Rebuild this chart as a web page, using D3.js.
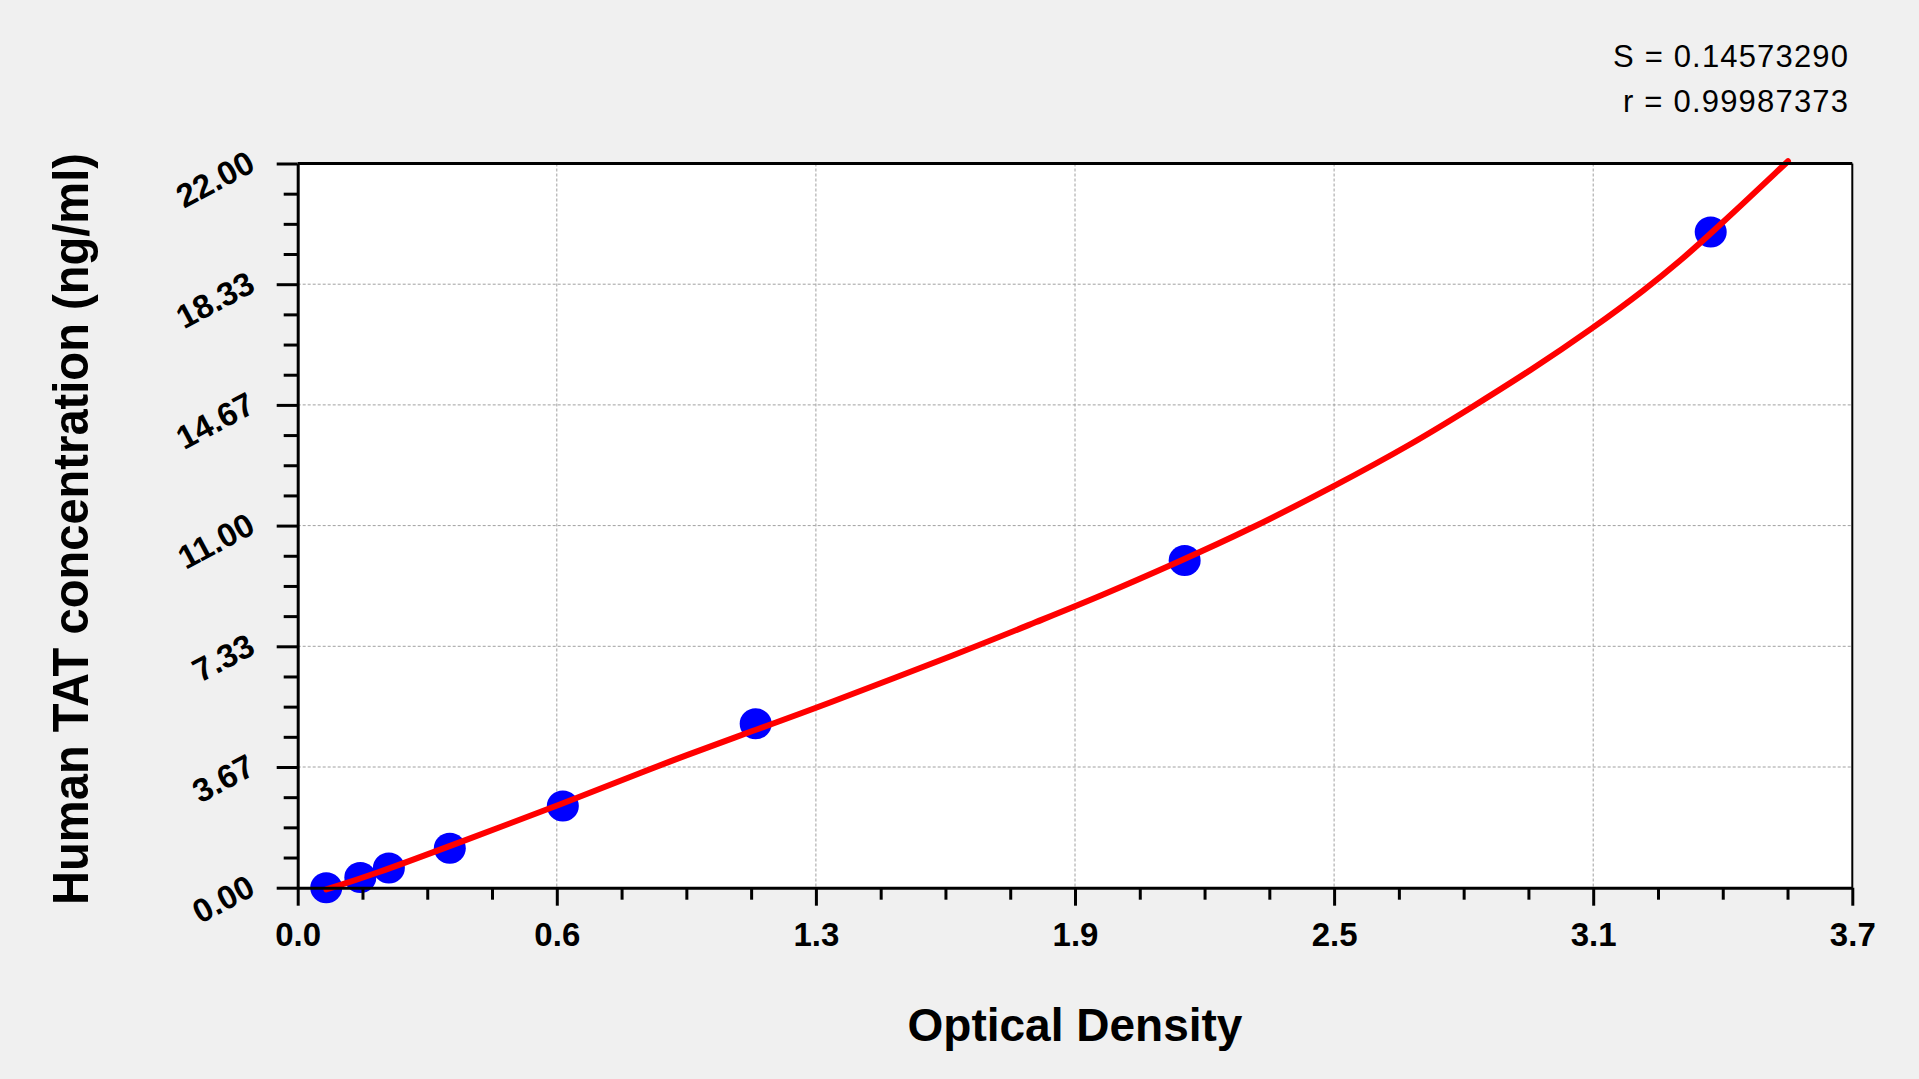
<!DOCTYPE html>
<html>
<head>
<meta charset="utf-8">
<script src="https://cdn.jsdelivr.net/npm/d3@7"></script>
<style>
    body { margin: 0; background: #f0f0f0; }
    svg { display: block; }
</style>
</head>
<body>
<svg id="chart" width="1919" height="1079"></svg>
<script>
// standards: optical density -> concentration
const standardOD = [0.068, 0.149, 0.217, 0.362, 0.631, 1.090, 2.111, 3.363]
const standardConc = [0, 0.31, 0.6, 1.2, 2.48, 4.98, 9.94, 19.92]
// points along the fitted red curve
const curveOD = [0.068, 0.172, 0.394, 0.63, 0.838, 0.910, 1.090, 1.233, 1.590, 1.759, 1.909, 2.100, 2.259, 2.465, 2.655, 2.790, 2.933, 3.083, 3.210, 3.290, 3.363, 3.547]
const curveConc = [-0.05, 0.36, 1.42, 2.55, 3.6, 3.95, 4.8, 5.45, 7.2, 8.08, 8.85, 9.92, 10.84, 12.18, 13.5, 14.56, 15.7, 17.0, 18.2, 19.04, 19.86, 22.07]
// axes
const xMax = 3.7
const yMax = 22
const xTickLabels = ['0.0', '0.6', '1.3', '1.9', '2.5', '3.1', '3.7']
const yTickLabels = ['0.00', '3.67', '7.33', '11.00', '14.67', '18.33', '22.00']
const statLines = ['S = 0.14573290', 'r = 0.99987373']
const xTitle = 'Optical Density'
const yTitle = 'Human TAT concentration (ng/ml)'

const font = '"Liberation Sans", Arial, sans-serif'
const plot = { left: 297.7, right: 1852.3, top: 163.5, bottom: 887.7 }

let svg = d3.select('#chart')
let x = d3.scaleLinear().domain([0, xMax]).range([plot.left, plot.right])
let y = d3.scaleLinear().domain([0, yMax]).range([plot.bottom, plot.top])

// major ticks split each axis in 6, minor ticks in 24
let majorX = d3.range(7).map(i => i * xMax / 6)
let minorX = d3.range(25).map(i => i * xMax / 24).filter((d, i) => i % 4 != 0)
let majorY = d3.range(7).map(i => i * yMax / 6)
let minorY = d3.range(25).map(i => i * yMax / 24).filter((d, i) => i % 4 != 0)

// white plot area
svg.append('rect')
    .attr('x', plot.left).attr('y', plot.top)
    .attr('width', plot.right - plot.left).attr('height', plot.bottom - plot.top)
    .attr('fill', '#ffffff')

// dotted grid on the inner major ticks
let grid = svg.append('g').attr('stroke', '#a0a0a0').attr('stroke-width', 1).attr('stroke-dasharray', '3,2')
grid.selectAll('.gx').data(majorX.slice(1, -1)).join('line')
    .attr('x1', d => x(d)).attr('x2', d => x(d))
    .attr('y1', plot.top).attr('y2', plot.bottom)
grid.selectAll('.gy').data(majorY.slice(1, -1)).join('line')
    .attr('x1', plot.left).attr('x2', plot.right)
    .attr('y1', d => y(d)).attr('y2', d => y(d))

// standards as blue dots
svg.append('g').selectAll('ellipse')
    .data(standardOD.map((d, i) => [d, standardConc[i]]))
    .join('ellipse')
    .attr('cx', d => x(d[0]))
    .attr('cy', d => y(d[1]))
    .attr('rx', 16).attr('ry', 15.5)
    .attr('fill', '#0000ff')

// fitted curve on top
let line = d3.line().x(d => x(d[0])).y(d => y(d[1])).curve(d3.curveBasis)
svg.append('path')
    .attr('d', line(curveOD.map((d, i) => [d, curveConc[i]])))
    .attr('fill', 'none')
    .attr('stroke', '#ff0000')
    .attr('stroke-width', 6)
    .attr('stroke-linecap', 'round')

// frame: top and right lines
svg.append('line')
    .attr('x1', plot.left).attr('x2', plot.right)
    .attr('y1', plot.top).attr('y2', plot.top)
    .attr('stroke', '#000').attr('stroke-width', 3)
svg.append('line')
    .attr('x1', plot.right).attr('x2', plot.right)
    .attr('y1', plot.top).attr('y2', plot.bottom)
    .attr('stroke', '#000').attr('stroke-width', 2)

// x axis, minor then major ticks
svg.append('g')
    .attr('transform', `translate(0,${plot.bottom})`)
    .call(d3.axisBottom(x).tickValues(minorX).tickSize(12).tickFormat(''))
    .call(g => g.select('.domain').remove())
    .call(g => g.selectAll('line').attr('stroke-width', 3))
svg.append('g')
    .attr('transform', `translate(0,${plot.bottom})`)
    .call(d3.axisBottom(x).tickValues(majorX).tickSize(18).tickSizeOuter(0).tickPadding(17)
        .tickFormat((d, i) => xTickLabels[i]))
    .call(g => g.select('.domain').attr('stroke-width', 3))
    .call(g => g.selectAll('line').attr('stroke-width', 3))
    .call(g => g.selectAll('text')
        .attr('font-family', font).attr('font-size', 33).attr('font-weight', 'bold').attr('fill', '#000'))

// y axis, labels tilted
svg.append('g')
    .attr('transform', `translate(${plot.left},0)`)
    .call(d3.axisLeft(y).tickValues(minorY).tickSize(14).tickFormat(''))
    .call(g => g.select('.domain').remove())
    .call(g => g.selectAll('line').attr('stroke-width', 3))
svg.append('g')
    .attr('transform', `translate(${plot.left},0)`)
    .call(d3.axisLeft(y).tickValues(majorY).tickSize(21).tickSizeOuter(0)
        .tickFormat((d, i) => yTickLabels[i]))
    .call(g => g.select('.domain').attr('stroke-width', 3))
    .call(g => g.selectAll('line').attr('stroke-width', 3))
    .call(g => g.selectAll('text')
        .attr('x', null).attr('dy', null)
        .attr('text-anchor', 'end')
        .attr('transform', `translate(${257 - plot.left},6) rotate(-28)`)
        .attr('font-family', font).attr('font-size', 33).attr('font-weight', 'bold').attr('fill', '#000'))

// axis titles
svg.append('text')
    .attr('x', (plot.left + plot.right) / 2).attr('y', 1041)
    .attr('text-anchor', 'middle')
    .attr('font-family', font).attr('font-size', 46).attr('font-weight', 'bold')
    .text(xTitle)
svg.append('text')
    .attr('transform', `translate(88,529) rotate(-90)`)
    .attr('text-anchor', 'middle')
    .attr('font-family', font).attr('font-size', 50).attr('font-weight', 'bold')
    .attr('textLength', 752).attr('lengthAdjust', 'spacingAndGlyphs')
    .text(yTitle)

// fit statistics, top right
svg.append('g').selectAll('text')
    .data(statLines)
    .join('text')
    .attr('x', 1848)
    .attr('y', (d, i) => 66.7 + i * 45)
    .attr('text-anchor', 'end')
    .attr('font-family', font).attr('font-size', 31)
    .attr('textLength', (d, i) => i == 0 ? 235 : 225).attr('lengthAdjust', 'spacing')
    .text(d => d)
</script>
</body>
</html>
